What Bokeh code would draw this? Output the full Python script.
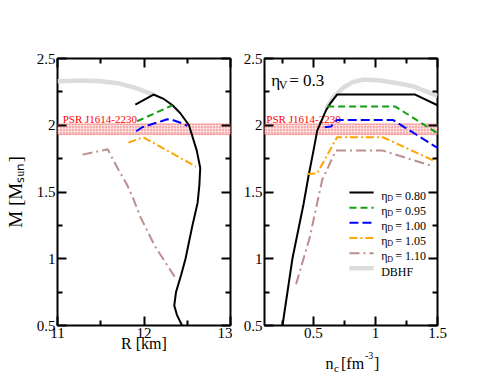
from bokeh.plotting import figure
from bokeh.layouts import row, column
from bokeh.models import FixedTicker, CustomJSTickFormatter, LinearAxis, BoxAnnotation
from bokeh.embed import file_html
from bokeh.resources import INLINE
from bokeh.core.properties import value

FONT = "'Liberation Serif', 'Times New Roman', serif"

# ---------------- data ----------------
eta_labels = ["0.80", "0.95", "1.00", "1.05", "1.10"]

# Left panel: M [M_sun] vs R [km]
r_080 = [12.44, 12.38, 12.35, 12.37, 12.43, 12.48, 12.56, 12.62, 12.64, 12.65, 12.61, 12.52, 12.42, 12.33, 12.22, 12.11, 11.90]
m_080 = [0.50, 0.58, 0.65, 0.75, 0.88, 1.00, 1.25, 1.42, 1.55, 1.68, 1.81, 2.00, 2.09, 2.15, 2.20, 2.23, 2.155]
r_095 = [11.92, 12.33]
m_095 = [2.03, 2.15]
r_100 = [11.91, 11.98, 12.20, 12.27, 12.33, 12.44, 12.50]
m_100 = [1.955, 1.985, 2.03, 2.045, 2.04, 2.015, 1.995]
r_105 = [11.82, 11.99, 12.27, 12.60]
m_105 = [1.87, 1.91, 1.81, 1.69]
r_110 = [11.29, 11.58, 11.71, 11.80, 11.87, 11.96, 12.13, 12.38]
m_110 = [1.78, 1.82, 1.66, 1.56, 1.46, 1.31, 1.09, 0.84]
r_dbhf = [11.00, 11.30, 11.50, 11.70, 11.90, 12.11]
m_dbhf = [2.33, 2.335, 2.33, 2.315, 2.28, 2.23]

# Right panel: M [M_sun] vs central density n_c [fm^-3]
n_080 = [0.25, 0.33, 0.42, 0.46, 0.50, 0.53, 0.60, 0.64, 0.69, 1.32, 1.50]
nm_080 = [0.50, 1.00, 1.41, 1.62, 1.81, 1.96, 2.11, 2.17, 2.23, 2.23, 2.15]
n_095 = [0.61, 1.16, 1.50]
nm_095 = [2.14, 2.14, 1.94]
n_100 = [0.59, 0.64, 0.69, 1.14, 1.50]
nm_100 = [1.985, 1.99, 2.04, 2.04, 1.83]
n_105 = [0.45, 0.53, 0.69, 1.06, 1.47]
nm_105 = [1.635, 1.64, 1.91, 1.91, 1.735]
n_110 = [0.36, 0.47, 0.57, 0.68, 1.06, 1.47]
nm_110 = [0.81, 1.16, 1.59, 1.81, 1.81, 1.69]
n_dbhf = [0.60, 0.66, 0.745, 0.82, 0.906, 1.04, 1.18, 1.31, 1.50]
nm_dbhf = [2.12, 2.21, 2.285, 2.325, 2.343, 2.335, 2.315, 2.29, 2.22]

# PSR J1614-2230 mass constraint
psr_name = "PSR J1614-2230"
psr_mass = 1.97
psr_err = 0.04

eta_v = "0.3"

# axes / ticks
y_major = [0.5, 1.0, 1.5, 2.0, 2.5]
y_minor = [0.75, 1.25, 1.75, 2.25]
r_major = [11, 12, 13]
r_minor = [11.5, 12.5]
n_major = [0.5, 1.0, 1.5]
n_minor = [0.25, 0.75, 1.25]

# ---------------- styles ----------------
styles = [
    dict(line_color="black", line_width=2, line_dash="solid"),
    dict(line_color="#10a010", line_width=2, line_dash="7 4"),
    dict(line_color="#0000ff", line_width=2, line_dash="9 4"),
    dict(line_color="#ffa500", line_width=2, line_dash="8 3 2 3"),
    dict(line_color="#bc8f8f", line_width=2, line_dash="10 4 2 4"),
]
dbhf_style = dict(line_color="#dcdcdc", line_width=4.5)

FW, FH = 173, 267
TOP = 58
H = 375            # total height
BOTTOM1 = H - TOP - FH
P1_LEFT = 57
P2_LEFT, P2_RIGHT = 32, 50
P2_BOTTOM = 22     # bottom border of right panel (tick labels only)
P2_H = TOP + FH + P2_BOTTOM
STRIP_H = H - P2_H


def make_fig(xr, xmaj, xmin, left_border, right_border, bottom_border):
    p = figure(frame_width=FW, frame_height=FH, x_range=xr, y_range=(0.5, 2.5),
               output_backend="svg", toolbar_location=None,
               min_border_left=left_border, min_border_right=right_border,
               min_border_top=TOP, min_border_bottom=bottom_border,
               background_fill_color="white", border_fill_color="white")
    p.grid.visible = False
    p.outline_line_color = "black"
    p.outline_line_width = 2
    fmt = CustomJSTickFormatter(code="return tick.toString();")
    blank = CustomJSTickFormatter(code="return '';")
    xt = FixedTicker(ticks=xmaj, minor_ticks=xmin)
    yt = FixedTicker(ticks=y_major, minor_ticks=y_minor)
    p.add_layout(LinearAxis(), "above")
    p.add_layout(LinearAxis(), "right")
    for ax in p.xaxis:
        ax.ticker = xt
    for ax in p.yaxis:
        ax.ticker = yt
    for ax in list(p.xaxis) + list(p.yaxis):
        ax.axis_line_color = None
        ax.major_tick_in = 9
        ax.major_tick_out = 0
        ax.minor_tick_in = 5
        ax.minor_tick_out = 0
        ax.major_tick_line_width = 2
        ax.minor_tick_line_width = 2
        ax.major_tick_line_color = "black"
        ax.minor_tick_line_color = "black"
        ax.major_label_text_font = FONT
        ax.major_label_text_font_size = "15px"
        ax.major_label_text_color = "black"
        ax.major_label_standoff = 2
        ax.formatter = fmt
        ax.axis_label_text_font = FONT
        ax.axis_label_text_font_style = "normal"
        ax.axis_label_text_font_size = "16px"
        ax.axis_label_text_color = "black"
    for ax in p.above + p.right:
        ax.formatter = blank
        ax.major_label_standoff = 0
    return p


def strip(fw, fh, left=0, right=0, top=0, bottom=0):
    s = figure(frame_width=fw, frame_height=fh, x_range=(0, fw), y_range=(0, fh),
               x_axis_type=None, y_axis_type=None, output_backend="svg",
               toolbar_location=None, min_border_left=left, min_border_right=right,
               min_border_top=top, min_border_bottom=bottom, outline_line_color=None,
               background_fill_color="white", border_fill_color="white")
    s.grid.visible = False
    return s


def txt(p, x, y, t, size, **kw):
    p.text(x=[x], y=[y], text=[t], text_font=value(FONT), text_font_size=size,
           text_baseline="alphabetic", text_color=kw.pop("color", "black"), **kw)


def psr_band(p, x_text):
    p.add_layout(BoxAnnotation(bottom=psr_mass - psr_err, top=psr_mass + psr_err,
                               fill_color="#f6b0b0", fill_alpha=1.0,
                               hatch_pattern="+", hatch_color="white", hatch_alpha=0.6,
                               hatch_scale=3, hatch_weight=0.8,
                               line_color="red", line_width=1, level="underlay"))
    txt(p, x_text, psr_mass + psr_err + 0.035, psr_name, "11px", color="red")


# ---------------- left panel ----------------
p1 = make_fig((11, 13), r_major, r_minor, P1_LEFT, 2, BOTTOM1)
psr_band(p1, 11.06)
p1.line(r_dbhf, m_dbhf, **dbhf_style)
for (xs, ys), st in zip([(r_080, m_080), (r_095, m_095), (r_100, m_100), (r_105, m_105), (r_110, m_110)], styles):
    p1.line(xs, ys, **st)
p1.below[0].axis_label = "R [km]"
p1.below[0].axis_label_standoff = -6
p1.left[0].axis_label = "M [M\u209b\u1d64\u2099]"
p1.left[0].axis_label_text_font_size = "19px"
p1.left[0].axis_label_standoff = 8

# ---------------- right panel ----------------
p2 = make_fig((0.105, 1.5), n_major, n_minor, P2_LEFT, P2_RIGHT, P2_BOTTOM)
psr_band(p2, 0.12)
p2.line(n_dbhf, nm_dbhf, **dbhf_style)
for (xs, ys), st in zip([(n_080, nm_080), (n_095, nm_095), (n_100, nm_100), (n_105, nm_105), (n_110, nm_110)], styles):
    p2.line(xs, ys, **st)

# eta_V annotation
tx, ty = 0.159, 2.335
txt(p2, tx, ty, "η", "17px")
txt(p2, tx, ty, "V", "12px", x_offset=7.5, y_offset=4)
txt(p2, tx, ty, "= " + eta_v, "17px", x_offset=18)

# legend
leg_x0, leg_x1, leg_tx = 0.79, 0.985, 1.046
leg_y0, leg_dy = 1.496, 0.1135
for i, st in enumerate(styles + [dbhf_style]):
    yy = leg_y0 - i * leg_dy
    p2.line([leg_x0, leg_x1], [yy, yy], **st)
    if i < len(eta_labels):
        txt(p2, leg_tx, yy, "η", "12px", y_offset=3)
        txt(p2, leg_tx, yy, "D", "8px", x_offset=6, y_offset=6)
        txt(p2, leg_tx, yy, "= " + eta_labels[i], "12px", x_offset=14, y_offset=3)
    else:
        txt(p2, leg_tx, yy, "DBHF", "12px", y_offset=4)

# ---------------- x-label strip under right panel: n_c [fm^-3] ----------------
nlab = strip(FW, STRIP_H, left=P2_LEFT, right=P2_RIGHT)
X0 = 264                 # page x of the right frame's left edge
base = H - 363           # baseline (page y 363) in strip coordinates
txt(nlab, 325 - X0, base, "n", "16px")
txt(nlab, 333.5 - X0, base - 4, "c", "11px")
txt(nlab, 340.5 - X0, base, "[fm", "16px")
txt(nlab, 364.5 - X0, base + 8, "-3", "10px")
txt(nlab, 373.5 - X0, base, "]", "16px")

layout = row(p1, column(p2, nlab, spacing=0), spacing=0)
open("out.html", "w").write(file_html(layout, INLINE))
